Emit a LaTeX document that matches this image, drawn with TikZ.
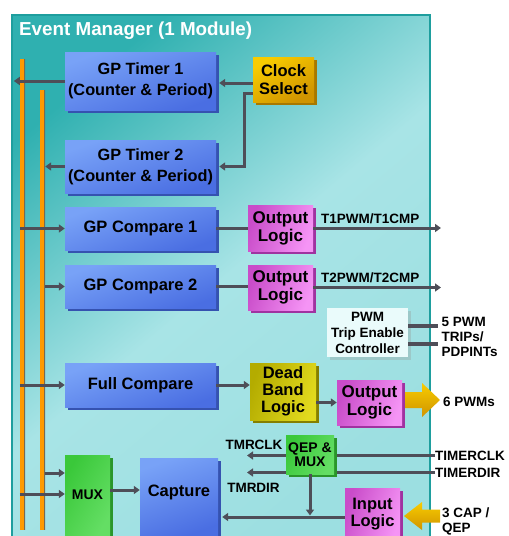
\documentclass[tikz,border=0pt]{standalone}
\usepackage{fontspec}
\setmainfont{Liberation Sans}
\usepackage{xcolor}
\usetikzlibrary{calc,positioning,shadows,arrows.meta}
\definecolor{panel}{HTML}{2FB0B0}
\definecolor{panellight}{HTML}{A8E4E6}
\definecolor{paneledge}{HTML}{1E9E9E}
\definecolor{bluetop}{HTML}{78A2F7}
\definecolor{bluebot}{HTML}{4A6EE2}
\definecolor{blueshadow}{HTML}{3552B0}
\definecolor{pinkdark}{HTML}{C94CC9}
\definecolor{pinklight}{HTML}{F594F5}
\definecolor{pinkshadow}{HTML}{A032A0}
\definecolor{goldlight}{HTML}{F8CC00}
\definecolor{golddark}{HTML}{D09400}
\definecolor{goldshadow}{HTML}{A87800}
\definecolor{olivedark}{HTML}{B4AC00}
\definecolor{olivelight}{HTML}{E2DA1E}
\definecolor{oliveshadow}{HTML}{857F00}
\definecolor{muxgreen}{HTML}{3AC83A}
\definecolor{muxgreenlight}{HTML}{64DE64}
\definecolor{greenshadow}{HTML}{2A962A}
\definecolor{tripfill}{HTML}{EAFBFB}
\definecolor{tripshadow}{HTML}{9CC8C8}
\definecolor{wiregray}{HTML}{4E4E58}
\definecolor{busorange}{HTML}{FF9A00}
\definecolor{busedge}{HTML}{7A6A50}

\tikzset{
  block/.style={inner sep=0pt, align=center, text=black,
    font=\fontsize{16.5}{18}\selectfont\bfseries},
  bluebox/.style={block, top color=bluetop, bottom color=bluebot, shading angle=20,
    drop shadow={shadow xshift=3pt, shadow yshift=-3pt, opacity=1, fill=blueshadow}},
  pinkbox/.style={block, left color=pinkdark, right color=pinklight, shading angle=70,
    font=\fontsize{17}{18}\selectfont\bfseries,
    drop shadow={shadow xshift=3pt, shadow yshift=-3pt, opacity=1, fill=pinkshadow}},
  goldbox/.style={block, top color=goldlight, bottom color=golddark, shading angle=30,
    drop shadow={shadow xshift=3pt, shadow yshift=-3pt, opacity=1, fill=goldshadow}},
  olivebox/.style={block, left color=olivedark, right color=olivelight, shading angle=70,
    font=\fontsize{16.5}{17}\selectfont\bfseries,
    drop shadow={shadow xshift=3pt, shadow yshift=-3pt, opacity=1, fill=oliveshadow}},
  greenbox/.style={block, left color=muxgreen, right color=muxgreenlight, shading angle=60,
    font=\fontsize{14}{14}\selectfont\bfseries,
    drop shadow={shadow xshift=3pt, shadow yshift=-3pt, opacity=1, fill=greenshadow}},
  tripbox/.style={block, fill=tripfill, font=\fontsize{13.5}{16}\selectfont\bfseries,
    drop shadow={shadow xshift=3pt, shadow yshift=-3pt, opacity=1, fill=tripshadow}},
  busbar/.style={fill=busorange, inner sep=0pt, minimum width=5pt,
    path picture={\draw[busedge, line width=1.2pt]
      (path picture bounding box.north east) -- (path picture bounding box.south east);}},
  paneltitle/.style={anchor=west, inner sep=0pt, text=white,
    font=\fontsize{18.8}{21}\selectfont\bfseries},
  lbl/.style={inner sep=0pt, align=left, font=\fontsize{13.5}{15}\selectfont\bfseries},
  conn/.style={draw=wiregray, line width=3pt, -{Triangle[length=6pt,width=8pt]}},
  plainwire/.style={draw=wiregray, line width=3pt},
  goldarrow/.style={top color=goldlight, bottom color=golddark},
}

\begin{document}
\begin{tikzpicture}[x=1pt, y=-1pt]
  \useasboundingbox (0,0) rectangle (509,536);
  \clip (0,0) rectangle (509,536);
  % module panel
  \shade[top color=panel, bottom color=panellight!90!panel, middle color=panellight, shading angle=40]
    (12,15) rectangle (430,545);
  \draw[paneledge, line width=2pt] (12,545) -- (12,15) -- (430,15) -- (430,545);
  \node[paneltitle] (title) at (19,31) {Event Manager (1 Module)};

  % timer buses
  \node[busbar, minimum height=471pt] (bus1) at (22.5,294.5) {};
  \node[busbar, minimum height=440pt] (bus2) at (42.5,310) {};

  % blocks
  \node[bluebox, minimum width=151pt, minimum height=58pt, font=\fontsize{16.3}{21}\selectfont\bfseries]
    (tmr1) at (140.5,81) {GP Timer 1\\(Counter \& Period)};
  \node[bluebox, minimum width=151pt, minimum height=53pt, font=\fontsize{16.3}{21}\selectfont\bfseries]
    (tmr2) at (140.5,166.5) {GP Timer 2\\(Counter \& Period)};
  \node[bluebox, minimum width=151pt, minimum height=43pt] (cmp1) at (140.5,228.5) {GP Compare 1};
  \node[bluebox, minimum width=151pt, minimum height=43pt] (cmp2) at (140.5,286.5) {GP Compare 2};
  \node[bluebox, minimum width=151pt, minimum height=44pt] (fcmp) at (140.5,385) {Full Compare};
  \node[greenbox, minimum width=45pt, minimum height=80pt] (mux) at (87.5,495) {MUX};
  \node[bluebox, minimum width=78pt, minimum height=78pt, text depth=12pt] (capt) at (179,497) {Capture};
  \node[goldbox, minimum width=61pt, minimum height=45pt] (clk) at (283.5,79.5) {Clock\\Select};
  \node[pinkbox, minimum width=65pt, minimum height=46pt] (olog1) at (280.5,228) {Output\\Logic};
  \node[pinkbox, minimum width=65pt, minimum height=45pt] (olog2) at (280.5,287.5) {Output\\Logic};
  \node[tripbox, minimum width=81pt, minimum height=49pt] (trip) at (367.5,332.5) {PWM\\Trip Enable\\Controller};
  \node[olivebox, minimum width=66pt, minimum height=57pt] (dbl) at (283,391.5) {Dead\\Band\\Logic};
  \node[pinkbox, minimum width=65pt, minimum height=45pt] (olog3) at (369.5,402.5) {Output\\Logic};
  \node[pinkbox, minimum width=55pt, minimum height=52pt, font=\fontsize{16.5}{17}\selectfont\bfseries]
    (inlog) at (372.5,514) {Input\\Logic};

  % pin labels
  \node[lbl, anchor=base west] (t1lbl) at (321,223) {T1PWM/T1CMP};
  \node[lbl, anchor=base west] (t2lbl) at (321,282) {T2PWM/T2CMP};
  \node[lbl, anchor=west, inner xsep=4pt] (trips) at (437.5,337) {5 PWM\\TRIPs/\\PDPINTs};
  \node[lbl, anchor=west] (pwm6) at (443,402) {6 PWMs};
  \node[lbl, anchor=west] (timerclk) at (435,455.5) {TIMERCLK};
  \node[lbl, anchor=west] (timerdir) at (435,472.5) {TIMERDIR};
  \node[lbl] (tmrclk) at (254,444.5) {TMRCLK};
  \node[lbl] (tmrdir) at (253.5,488) {TMRDIR};
  \node[lbl, anchor=west] (capqep) at (442,521) {3 CAP /\\QEP};
  \coordinate (t1out) at (441,228);
  \coordinate (t2out) at (441,287.5);
  \coordinate (clkin) at (247,455.5);
  \coordinate (dirin) at (247,472.5);

  % bus connections
  \draw[conn] (tmr1.west) -- ($(tmr1.west -| bus1.west)+(-6,0)$);
  \draw[conn] (tmr2.west) -- (tmr2.west -| bus2.east);
  \draw[conn] (cmp1.west -| bus1.west) -- (cmp1.west);
  \draw[conn] (cmp2.west -| bus2.east) -- (cmp2.west);
  \draw[conn] (fcmp.west -| bus1.west) -- (fcmp.west);
  \draw[conn] (bus2.east |- 0,473) -- (mux.west |- 0,473);
  \draw[conn] (bus1.west |- 0,494) -- (mux.west |- 0,494);
  \draw[conn] (mux.east |- 0,490) -- (capt.west |- 0,490);

  % clock select
  \draw[conn, shorten >=3pt] (clk.west |- 0,83) -- (tmr1.east |- 0,83);
  \draw[conn, shorten >=3pt] (clk.west |- 0,93) -| ($(tmr2.east)+(28,0)$) -- (tmr2.east);

  % compare outputs
  \draw[plainwire] (cmp1.east) -- (cmp1.east -| olog1.west);
  \draw[plainwire] (cmp2.east) -- (cmp2.east -| olog2.west);
  \draw[conn] (olog1.east) -- (t1out);
  \draw[conn] (olog2.east) -- (t2out);
  \draw[plainwire, line width=3.5pt] (trip.east |- 0,326) -- (trips.west |- 0,326);
  \draw[plainwire, line width=3.5pt] (trip.east |- 0,344) -- (trips.west |- 0,344);

  % full compare path
  \draw[conn] (fcmp.east) -- (fcmp.east -| dbl.west);
  \draw[conn] (dbl.east |- olog3.west) -- (olog3.west);
  \shade[goldarrow] (405,392) -- (422,392) -- (422,383) -- (440,400) -- (422,417) -- (422,408) -- (405,408) -- cycle;

  % capture / QEP
  \draw[conn] (timerclk.west) -- (clkin);
  \draw[conn] (timerdir.west) -- (dirin);
  \node[greenbox, minimum width=48pt, minimum height=39pt] (qep) at (310,454.5) {QEP \&\\MUX};
  \draw[conn, shorten >=1.5pt] (qep.south) -- (qep.south |- 0,517);
  \draw[conn, shorten >=4pt] (inlog.west |- 0,517) -- (capt.east |- 0,517);
  \shade[goldarrow] (404,516) -- (422,502) -- (422,509.5) -- (440,509.5) -- (440,522.5) -- (422,522.5) -- (422,530) -- cycle;
\end{tikzpicture}
\end{document}
